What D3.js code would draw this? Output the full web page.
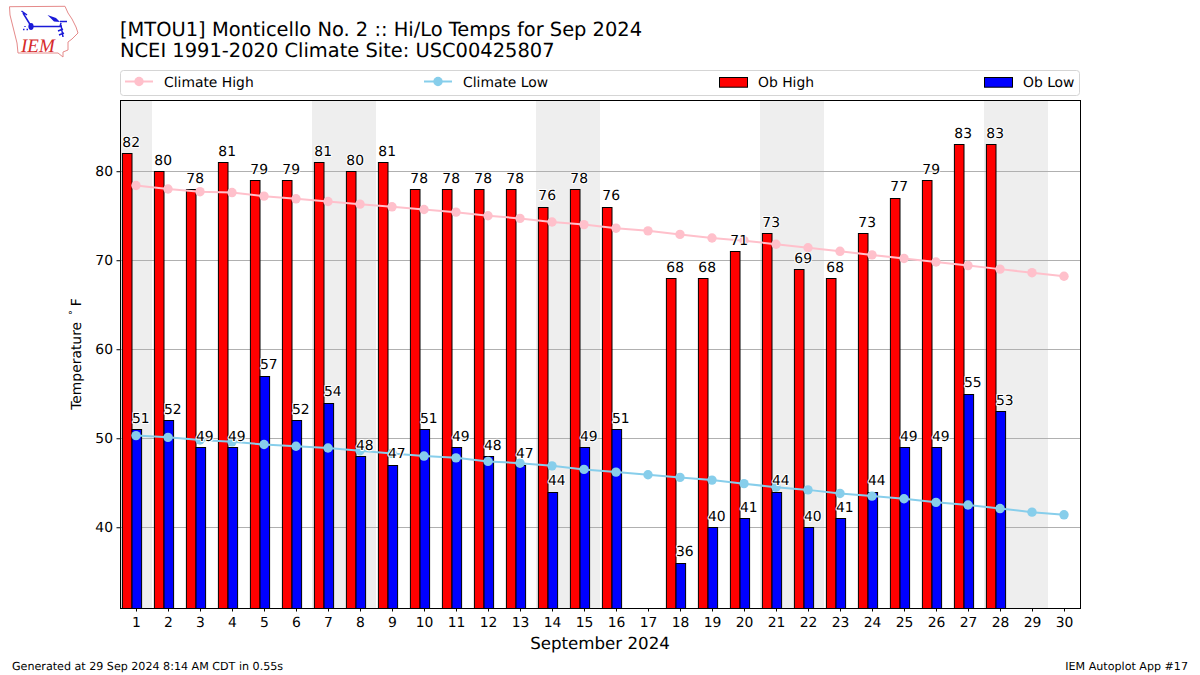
<!DOCTYPE html>
<html><head><meta charset="utf-8">
<script src="https://cdn.jsdelivr.net/npm/d3@7/dist/d3.min.js"></script>
<style>
html,body{margin:0;padding:0;background:#fff;}
svg{display:block;}
text{font-family:"DejaVu Sans",sans-serif;fill:#000;text-rendering:geometricPrecision;}
</style></head><body>
<script>
const days = d3.range(1, 31);
const obDays = [1,2,3,4,5,6,7,8,9,10,11,12,13,14,15,16,18,19,20,21,22,23,24,25,26,27,28];
const obHigh = [82,80,78,81,79,79,81,80,81,78,78,78,78,76,78,76,68,68,71,73,69,68,73,77,79,83,83];
const obLow = [51,52,49,49,57,52,54,48,47,51,49,48,47,44,49,51,36,40,41,44,40,41,44,49,49,55,53];
const climateHigh = [78.4,78.0,77.7,77.6,77.2,76.9,76.6,76.3,76.0,75.7,75.4,75.0,74.7,74.3,74.0,73.6,73.3,72.9,72.5,72.2,71.8,71.4,71.0,70.6,70.2,69.8,69.4,69.0,68.6,68.2];
const climateLow = [50.3,50.1,49.8,49.6,49.3,49.1,48.9,48.6,48.3,48.0,47.8,47.4,47.2,46.9,46.5,46.2,45.9,45.6,45.3,44.9,44.5,44.2,43.8,43.5,43.2,42.8,42.5,42.1,41.7,41.4];
const weekends = [[0.5,1.5],[6.5,8.5],[13.5,15.5],[20.5,22.5],[27.5,29.5]];
const yTicks = [40,50,60,70,80];
const titleLines = ["[MTOU1] Monticello No. 2 :: Hi/Lo Temps for Sep 2024","NCEI 1991-2020 Climate Site: USC00425807"];

const W=1200,H=675,L=120,R=1080,T=100,B=608;
const x=d3.scaleLinear().domain([0.5,30.5]).range([L,R]);
const y=d3.scaleLinear().domain([30.93,88]).range([B,T]);
const svg=d3.select("body").append("svg").attr("width",W).attr("height",H);
const FS=13.89;

// Logo
const logo=svg.append("g");
logo.append("path").attr("d","M9.5,6.7 L65,6.3 L68,13 L72,19 L76,27 L78,33 L72,39 L68,42 L68,50 L63,52 L63,57 L58,53 L18,53 L17,43 L13,27 L10,15 Z")
  .attr("fill","none").attr("stroke","#e58a8a").attr("stroke-width",1);
logo.append("text").attr("x",21).attr("y",51.7).attr("font-size",19).attr("font-style","italic")
  .style("font-family","'Liberation Serif',serif").style("fill","#d62a2a").text("IEM");
logo.append("path").attr("d","M31,26.5 H60 L61,23 M60,21.5 H67 M31,26 L23,13 M21.5,11 L27,15 M61,25 L63,37 M58,31 L63,29 M59,35 L64,33")
  .attr("fill","none").attr("stroke","#1a1ad8").attr("stroke-width",1.5);
logo.append("ellipse").attr("cx",31).attr("cy",26.5).attr("rx",2.6).attr("ry",3.4).attr("fill","#1a1ad8");
logo.append("path").attr("d","M47.5,15 L56,18 L60,22 L54,21.5 Z").attr("fill","#1a1ad8");
logo.append("path").attr("d","M23,29.5 h1.5 M25,26 v1 M26.5,29.5 h1.5").attr("fill","none").attr("stroke","#1a1ad8").attr("stroke-width",1.3);

// Titles
svg.selectAll(".title").data(titleLines).join("text").attr("class","title")
  .attr("x",120).attr("y",(d,i)=>35.5+i*21.5).attr("font-size",19.44).text(d=>d);

// Legend
svg.append("rect").attr("x",120.5).attr("y",70.5).attr("width",959).attr("height",25).attr("rx",3)
  .attr("fill","#fff").attr("stroke","#d5d5d5");
const legendItems=[
 {name:"Climate High",kind:"line",color:"pink",x0:125},
 {name:"Climate Low",kind:"line",color:"skyblue",x0:424},
 {name:"Ob High",kind:"bar",color:"red",x0:719},
 {name:"Ob Low",kind:"bar",color:"blue",x0:984}];
legendItems.forEach(it=>{
  if(it.kind==="line"){
    svg.append("line").attr("x1",it.x0).attr("x2",it.x0+28).attr("y1",81.5).attr("y2",81.5).attr("stroke",it.color).attr("stroke-width",2);
    svg.append("circle").attr("cx",it.x0+14).attr("cy",81.5).attr("r",4.7).attr("fill",it.color);
  } else {
    svg.append("rect").attr("x",it.x0+.5).attr("y",77.5).attr("width",28).attr("height",9.7).attr("fill",it.color).attr("stroke","#000");
  }
  svg.append("text").attr("x",it.x0+39).attr("y",86.5).attr("font-size",FS).text(it.name);
});

// Plot
const clipId="plotclip";
svg.append("clipPath").attr("id",clipId).append("rect").attr("x",L).attr("y",T).attr("width",R-L).attr("height",B-T);
const plot=svg.append("g").attr("clip-path",`url(#${clipId})`);
plot.selectAll(".wk").data(weekends).join("rect").attr("class","wk")
  .attr("x",d=>x(d[0])).attr("width",d=>x(d[1])-x(d[0])).attr("y",T).attr("height",B-T).attr("fill","#eeeeee");
plot.selectAll(".grid").data(yTicks).join("line").attr("class","grid")
  .attr("x1",L).attr("x2",R).attr("y1",d=>Math.floor(y(d))+.5).attr("y2",d=>Math.floor(y(d))+.5)
  .attr("stroke","#b0b0b0").attr("stroke-width",1);
const barW=x(1.3)-x(1);
const snapY=v=>Math.round(y(v)-0.1)+.5;
plot.selectAll(".hi").data(obDays).join("rect").attr("class","hi")
  .attr("x",d=>x(d-0.425)).attr("width",barW).attr("y",(d,i)=>snapY(obHigh[i])).attr("height",(d,i)=>B-snapY(obHigh[i])+3)
  .attr("fill","red").attr("stroke","#000").attr("stroke-width",1);
plot.selectAll(".lo").data(obDays).join("rect").attr("class","lo")
  .attr("x",d=>x(d-0.125)).attr("width",barW).attr("y",(d,i)=>snapY(obLow[i])).attr("height",(d,i)=>B-snapY(obLow[i])+3)
  .attr("fill","blue").attr("stroke","#000").attr("stroke-width",1);
const line=d3.line().x((d,i)=>x(days[i])).y(d=>y(d));
[[climateHigh,"pink"],[climateLow,"skyblue"]].forEach(([vals,c])=>{
  plot.append("path").attr("d",line(vals)).attr("fill","none").attr("stroke",c).attr("stroke-width",2);
  plot.selectAll(null).data(vals).join("circle").attr("cx",(d,i)=>x(days[i])).attr("cy",d=>y(d)).attr("r",4.7).attr("fill",c);
});
// Labels
function labels(vals,off){
  svg.selectAll(null).data(vals).join("text")
    .attr("x",(d,i)=>x(obDays[i]+off)-0.8).attr("y",d=>y(d)-6.5).attr("text-anchor","middle").attr("font-size",FS)
    .attr("stroke","#fff").attr("stroke-width",2).attr("paint-order","stroke").attr("stroke-linejoin","round").text(d=>d);
}
labels(obHigh,-0.125);
labels(obLow,0.175);

// Frame & axes
const xAxis=d3.axisBottom(x).tickValues(days).tickFormat(d3.format("d")).tickSize(3.5).tickPadding(4);
const gx=svg.append("g").attr("transform",`translate(0,${B})`).call(xAxis);
const yAxis=d3.axisLeft(y).tickValues(yTicks).tickSize(3.5).tickPadding(3.5);
const gy=svg.append("g").attr("transform",`translate(${L},0)`).call(yAxis);
[gx,gy].forEach(g=>{g.select(".domain").remove();g.selectAll("text").attr("font-size",FS).style("font-family","'DejaVu Sans',sans-serif");g.selectAll("line").attr("stroke","#000");});
gx.selectAll("text").attr("dy","0.85em");
svg.append("rect").attr("x",L+.5).attr("y",T+.5).attr("width",R-L).attr("height",B-T).attr("fill","none").attr("stroke","#000");

svg.append("text").attr("x",600).attr("y",649).attr("text-anchor","middle").attr("font-size",16.67).text("September 2024");
const yl=svg.append("text").attr("transform","translate(81,354) rotate(-90)").attr("text-anchor","middle").attr("font-size",FS);
yl.append("tspan").text("Temperature ");
yl.append("tspan").attr("font-size",9.7).attr("dy",-5).attr("dx",2.5).text("°");
yl.append("tspan").attr("dy",5).attr("dx",4).text("F");
svg.append("text").attr("x",12).attr("y",670).attr("font-size",11.11).text("Generated at 29 Sep 2024 8:14 AM CDT in 0.55s");
svg.append("text").attr("x",1188).attr("y",670).attr("text-anchor","end").attr("font-size",11.11).text("IEM Autoplot App #17");
</script>
</body></html>
